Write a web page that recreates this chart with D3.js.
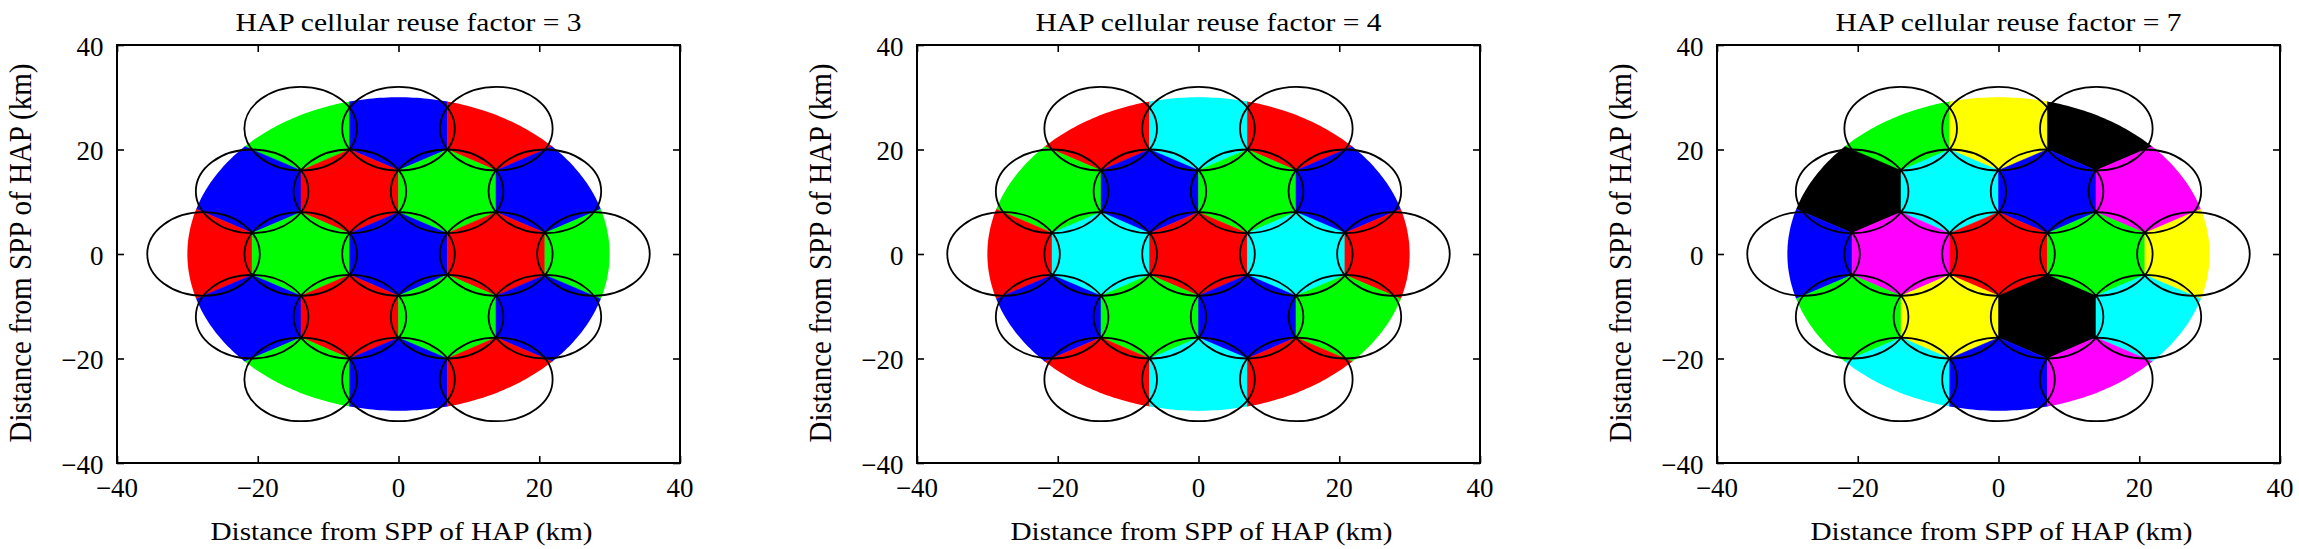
<!DOCTYPE html>
<html>
<head>
<meta charset="utf-8">
<script src="https://cdn.jsdelivr.net/npm/d3@7"></script>
<style>
  html, body { margin: 0; padding: 0; background: #fff; }
  svg { display: block; }
</style>
</head>
<body>
<svg id="chart" width="2299" height="549" font-family="'Liberation Serif', 'Times New Roman', serif"></svg>
<script>
// ---- data (km) ----
const cellX = [-13.9, 0, 13.9,
               -20.8, -6.9, 6.9, 20.8,
               -27.7, -13.9, 0, 13.9, 27.7,
               -20.8, -6.9, 6.9, 20.8,
               -13.9, 0, 13.9];
const cellY = [24, 24, 24,
               12, 12, 12, 12,
               0, 0, 0, 0, 0,
               -12, -12, -12, -12,
               -24, -24, -24];
const beamRadius = 8;       // km, black circles
const coverageRadius = 30;  // km, coloured service area

const reuse3Colors = ["green","blue","red",
                      "blue","red","green","blue",
                      "red","green","blue","red","green",
                      "blue","red","green","blue",
                      "green","blue","red"];
const reuse4Colors = ["red","cyan","red",
                      "green","blue","green","blue",
                      "red","cyan","red","cyan","red",
                      "blue","green","blue","green",
                      "red","cyan","red"];
const reuse7Colors = ["green","yellow","black",
                      "black","cyan","blue","magenta",
                      "blue","magenta","red","green","yellow",
                      "green","yellow","black","cyan",
                      "cyan","blue","magenta"];

const titles = ["HAP cellular reuse factor = 3",
                "HAP cellular reuse factor = 4",
                "HAP cellular reuse factor = 7"];
const panelColors = [reuse3Colors, reuse4Colors, reuse7Colors];
const axisDomain = [-40, 40];
const tickValues = [-40, -20, 0, 20, 40];
const xLabel = "Distance from SPP of HAP (km)";
const yLabel = "Distance from SPP of HAP (km)";

const palette = {
  red: "#ff0000", green: "#00ff00", blue: "#0000ff",
  cyan: "#00ffff", yellow: "#ffff00", magenta: "#ff00ff", black: "#000000"
};

// ---- layout ----
const W = 563, H = 418;
const panelLeft = [117, 917, 1717];
const panelTop = 45;
const FONT = "Liberation Serif";

const svg = d3.select("#chart");
const fmt = v => (v < 0 ? "\u2212" + Math.abs(v) : String(v));

const centers = cellX.map((x, i) => [x, cellY[i]]);
const delaunay = d3.Delaunay.from(centers);
const vor = delaunay.voronoi([axisDomain[0], axisDomain[0], axisDomain[1], axisDomain[1]]);

panelColors.forEach((cols, p) => {
  const g = svg.append("g").attr("transform", `translate(${panelLeft[p]},${panelTop})`);
  const x = d3.scaleLinear().domain(axisDomain).range([0, W]);
  const y = d3.scaleLinear().domain(axisDomain).range([H, 0]);
  const line = d3.line().x(d => x(d[0])).y(d => y(d[1]));

  // clip: coverage disk
  const clipId = "cov" + p;
  const disk = d3.range(0, 361, 1).map(a => {
    const t = a * Math.PI / 180;
    return [coverageRadius * Math.cos(t), coverageRadius * Math.sin(t)];
  });
  g.append("clipPath").attr("id", clipId)
    .append("path").attr("d", line(disk) + "Z");

  // coloured cells
  g.append("g").attr("clip-path", `url(#${clipId})`)
    .selectAll("path").data(centers).join("path")
    .attr("d", (d, i) => line(vor.cellPolygon(i)) + "Z")
    .attr("fill", (d, i) => palette[cols[i]])
    .attr("stroke", (d, i) => palette[cols[i]])
    .attr("stroke-width", 0.5);

  // beam circles
  g.append("g").selectAll("ellipse").data(centers).join("ellipse")
    .attr("cx", d => x(d[0]))
    .attr("cy", d => y(d[1]))
    .attr("rx", x(beamRadius) - x(0))
    .attr("ry", y(0) - y(beamRadius))
    .attr("fill", "none")
    .attr("stroke", "#000")
    .attr("stroke-width", 1.8);

  // axes (ticks inward, all four sides)
  const tl = 7;
  const axB = g.append("g").attr("transform", `translate(0,${H})`)
    .call(d3.axisBottom(x).tickValues(tickValues).tickSize(-tl).tickFormat(""));
  const axT = g.append("g")
    .call(d3.axisTop(x).tickValues(tickValues).tickSize(-tl).tickFormat(""));
  const axL = g.append("g")
    .call(d3.axisLeft(y).tickValues(tickValues).tickSize(-tl).tickFormat(""));
  const axR = g.append("g").attr("transform", `translate(${W},0)`)
    .call(d3.axisRight(y).tickValues(tickValues).tickSize(-tl).tickFormat(""));
  [axB, axT, axL, axR].forEach(a => {
    a.select(".domain").remove();
    a.selectAll(".tick line").attr("stroke", "#000").attr("stroke-width", 1.6);
  });
  g.append("rect").attr("x", 0).attr("y", 0).attr("width", W).attr("height", H)
    .attr("fill", "none").attr("stroke", "#000").attr("stroke-width", 2);

  // tick labels
  g.append("g").selectAll("text").data(tickValues).join("text")
    .attr("x", d => x(d)).attr("y", H + 33.5)
    .attr("text-anchor", "middle")
    .attr("font-family", FONT).attr("font-size", 27)
    .text(fmt);
  g.append("g").selectAll("text").data(tickValues).join("text")
    .attr("x", -13.5).attr("y", d => y(d) + 10.7)
    .attr("text-anchor", "end")
    .attr("font-family", FONT).attr("font-size", 27)
    .text(fmt);

  // title
  g.append("text")
    .attr("x", W / 2 + 10 - 173).attr("y", 30.7 - panelTop)
    .attr("font-family", FONT).attr("font-size", 25)
    .attr("textLength", 346).attr("lengthAdjust", "spacingAndGlyphs")
    .text(titles[p]);

  // x label
  g.append("text")
    .attr("x", W / 2 + 3 - 191).attr("y", 540 - panelTop)
    .attr("font-family", FONT).attr("font-size", 25)
    .attr("textLength", 382).attr("lengthAdjust", "spacingAndGlyphs")
    .text(xLabel);

  // y label
  g.append("text")
    .attr("transform", `translate(${31 - 117},${253 - panelTop}) scale(1.3,1) rotate(-90)`)
    .attr("x", -189.5).attr("y", 0)
    .attr("font-family", FONT).attr("font-size", 25)
    .attr("textLength", 379).attr("lengthAdjust", "spacingAndGlyphs")
    .text(yLabel);
});
</script>
</body>
</html>
